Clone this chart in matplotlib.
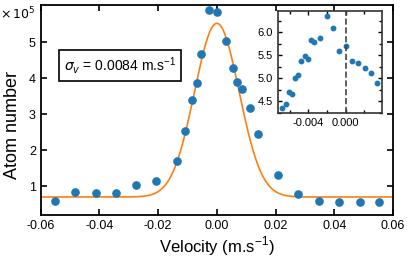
import numpy as np
import matplotlib
matplotlib.use("Agg")
import matplotlib.pyplot as plt
from matplotlib.ticker import MultipleLocator

plt.rcParams['font.family'] = ['Liberation Sans', 'DejaVu Sans']
plt.rcParams['axes.unicode_minus'] = False
plt.rcParams['mathtext.fontset'] = 'dejavusans'

# Main data: velocity (m/s) and atom number (x 1e5)
velocity = [-0.0552, -0.0483, -0.0413, -0.0344, -0.0276, -0.0207, -0.0137,
            -0.0109, -0.0083, -0.0068, -0.0055, -0.0027, 0.0001, 0.0030,
            0.0056, 0.0070, 0.0084, 0.0113, 0.0139, 0.0208, 0.0278, 0.0347,
            0.0416, 0.0486, 0.0554]
atoms = [0.59, 0.84, 0.80, 0.80, 1.04, 1.15, 1.69,
         2.54, 3.40, 3.86, 4.67, 5.89, 5.83, 5.02,
         4.27, 3.90, 3.69, 3.16, 2.46, 1.32, 0.79, 0.60,
         0.57, 0.57, 0.57]

# Gaussian fit parameters
fit_offset = 0.70
fit_amp = 4.82
fit_center = 0.0
fit_sigma = 0.0076

# Inset data
inset_v = [-0.00678, -0.00642, -0.00606, -0.00571, -0.00539, -0.00507,
           -0.00475, -0.00439, -0.00406, -0.00371, -0.00336, -0.00272,
           -0.00203, -0.00136, -0.00068, 0.0, 0.00067, 0.00135, 0.00203,
           0.00271, 0.00338]
inset_n = [4.35, 4.45, 4.70, 4.65, 5.01, 5.08, 5.38, 5.49, 5.41, 5.83,
           5.78, 5.87, 6.36, 6.08, 5.60, 5.69, 5.37, 5.34, 5.22, 5.12, 4.90]

blue = '#1f77b4'
orange = '#ff7f0e'

fig = plt.figure(figsize=(4.07, 2.60), dpi=100)
ax = fig.add_axes([0.1, 0.173, 0.8656, 0.808])

vf = np.linspace(-0.06, 0.06, 600)
fit = fit_offset + fit_amp * np.exp(-(vf - fit_center) ** 2 / (2 * fit_sigma ** 2))
ax.plot(vf, fit, color=orange, lw=1.2, zorder=2)
ax.plot(velocity, atoms, 'o', color=blue, ms=5.2, zorder=3)

ax.set_xlim(-0.06, 0.06)
ax.set_ylim(0.2, 6.03)
ax.set_xticks([-0.06, -0.04, -0.02, 0.0, 0.02, 0.04, 0.06])
ax.set_xticklabels(['-0.06', '-0.04', '-0.02', '0.00', '0.02', '0.04', '0.06'])
ax.set_yticks([1, 2, 3, 4, 5])
ax.tick_params(direction='in', top=True, right=True, length=4, width=1.2,
               labelsize=9)
for s in ax.spines.values():
    s.set_linewidth(1.3)
ax.set_xlabel('Velocity (m.s$^{\\mathregular{-1}}$)', fontsize=12, labelpad=2)
ax.set_ylabel('Atom number', fontsize=13)
ax.yaxis.set_label_coords(-0.055, 0.43)

fig.text(0.0, 0.945, r'$\times\,10^{5}$', fontsize=9, ha='left', va='center')

ax.text(0.224, 0.711, r'$\sigma_v$ = 0.0084 m.s$^{\mathregular{-1}}$',
        transform=ax.transAxes, ha='center', va='center', fontsize=10,
        bbox=dict(boxstyle='square,pad=0.35', fc='white', ec='black', lw=1.2))

# Inset
ins = fig.add_axes([0.682, 0.564, 0.257, 0.394])
ins.plot(inset_v, inset_n, 'o', color=blue, ms=3.2)
ins.axvline(0.0, color='#444444', ls='--', lw=1.2)
ins.set_xlim(-0.0073, 0.0039)
ins.set_ylim(4.24, 6.46)
ins.xaxis.set_major_locator(MultipleLocator(0.004))
ins.xaxis.set_minor_locator(MultipleLocator(0.002))
ins.yaxis.set_major_locator(MultipleLocator(0.5))
ins.yaxis.set_minor_locator(MultipleLocator(0.25))
ins.set_xticks([-0.004, 0.0])
ins.set_xticklabels(['-0.004', '0.000'])
ins.set_yticks([4.5, 5.0, 5.5, 6.0])
ins.set_yticklabels(['4.5', '5.0', '5.5', '6.0'])
ins.tick_params(which='both', direction='in', top=True, right=True,
                labelsize=8, width=1.0)
ins.tick_params(which='major', length=3)
ins.tick_params(which='minor', length=2)
for s in ins.spines.values():
    s.set_linewidth(1.2)
    s.set_color('#333333')

fig.savefig('out.png', dpi=100)
